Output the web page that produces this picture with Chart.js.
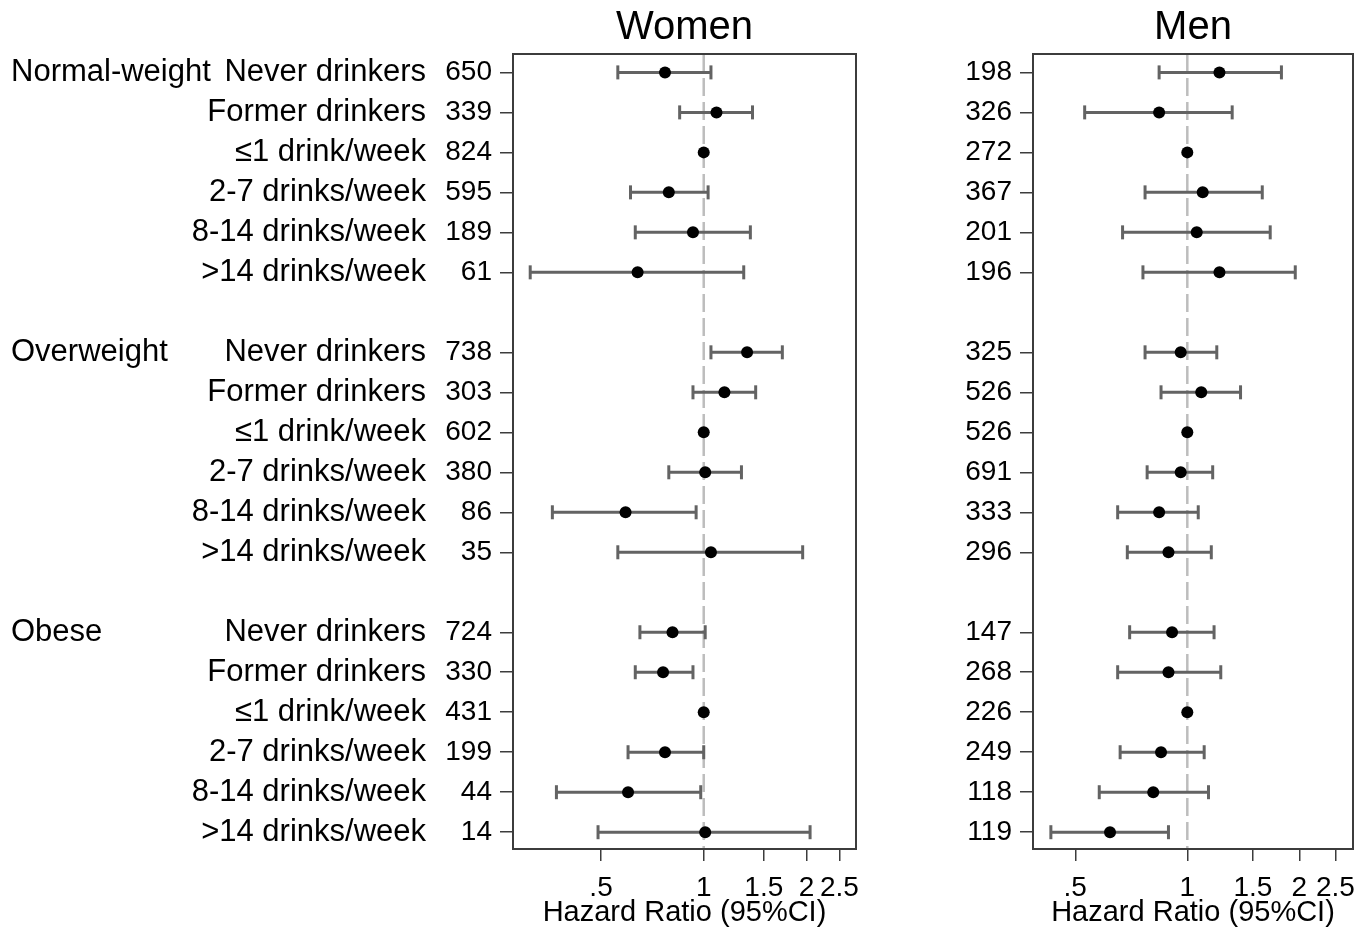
<!DOCTYPE html>
<html>
<head>
<meta charset="utf-8">
<script src="https://cdn.jsdelivr.net/npm/chart.js@4/dist/chart.umd.min.js"></script>
<style>
  body { margin: 0; background: #fff; }
  canvas { position: absolute; top: 0; }
  #women { left: 0; }
  #men { left: 870px; }
</style>
</head>
<body>
<canvas id="women" width="870" height="931"></canvas>
<canvas id="men" width="500" height="931"></canvas>
<script>
// chart values
var groups = ['Normal-weight', 'Overweight', 'Obese'];
var categories = ['Never drinkers', 'Former drinkers', '\u22641 drink/week', '2-7 drinks/week', '8-14 drinks/week', '>14 drinks/week'];

var womenN  = [650, 339, 824, 595, 189, 61,   738, 303, 602, 380, 86, 35,   724, 330, 431, 199, 44, 14];
var womenHR = [0.77, 1.09, 1, 0.79, 0.93, 0.64,   1.34, 1.15, 1, 1.01, 0.59, 1.05,   0.81, 0.76, 1, 0.77, 0.60, 1.01];
var womenLo = [0.56, 0.85, null, 0.61, 0.63, 0.31,   1.05, 0.93, null, 0.79, 0.36, 0.56,   0.65, 0.63, null, 0.60, 0.37, 0.49];
var womenHi = [1.05, 1.39, null, 1.03, 1.37, 1.31,   1.70, 1.42, null, 1.29, 0.95, 1.95,   1.01, 0.93, null, 1.00, 0.98, 2.05];

var menN  = [198, 326, 272, 367, 201, 196,   325, 526, 526, 691, 333, 296,   147, 268, 226, 249, 118, 119];
var menHR = [1.22, 0.84, 1, 1.10, 1.06, 1.22,   0.96, 1.09, 1, 0.96, 0.84, 0.89,   0.91, 0.89, 1, 0.85, 0.81, 0.62];
var menLo = [0.84, 0.53, null, 0.77, 0.67, 0.76,   0.77, 0.85, null, 0.78, 0.65, 0.69,   0.70, 0.65, null, 0.66, 0.58, 0.43];
var menHi = [1.79, 1.32, null, 1.59, 1.67, 1.95,   1.20, 1.39, null, 1.17, 1.07, 1.16,   1.18, 1.23, null, 1.11, 1.14, 0.89];

var xTicks = [0.5, 1, 1.5, 2, 2.5];
var xTickLabels = ['.5', '1', '1.5', '2', '2.5'];

var FONT = "'Liberation Sans', Arial, sans-serif";
var yMin = -0.46, yMax = 19.42;

// row position: one blank row between weight groups
var rowPos = [];
groups.forEach(function(g, gi) {
    categories.forEach(function(c, ci) { rowPos.push(gi * 7 + ci); });
});
var rowLabels = groups.map(function() { return categories; }).flat();
var groupPos = groups.map(function(g, gi) { return gi * 7; });

function ciData(lo, hi) {
    var out = [];
    rowPos.forEach(function(p, i) {
        if (lo[i] === null) return;
        out.push({x: lo[i], y: p}, {x: hi[i], y: p}, {x: null, y: null});
    });
    return out;
}

var framePlugin = {
    id: 'frame',
    afterDraw: function(chart) {
        var a = chart.chartArea, ctx = chart.ctx;
        ctx.save();
        ctx.strokeStyle = '#3c3c3c';
        ctx.lineWidth = 2;
        ctx.strokeRect(a.left, a.top, a.right - a.left, a.bottom - a.top);
        ctx.restore();
    }
};

function yAxis(positions, labels, opts, tickOpts) {
    return Object.assign({
        type: 'linear',
        position: 'left',
        min: yMin,
        max: yMax,
        reverse: true,
        border: {display: false},
        afterBuildTicks: function(scale) {
            scale.ticks = positions.map(function(v) { return {value: v}; });
        },
        ticks: Object.assign({
            autoSkip: false,
            color: '#000',
            font: {family: FONT, size: 31},
            callback: function(value, index) { return labels[index]; }
        }, tickOpts)
    }, opts);
}

function buildPanel(id, title, n, hr, lo, hi, xMin, xMax, withLabels) {
    var scales = {
        x: {
            type: 'logarithmic',
            position: 'bottom',
            min: xMin,
            max: xMax,
            border: {display: false},
            afterBuildTicks: function(scale) {
                scale.ticks = xTicks.map(function(v) { return {value: v}; });
            },
            afterFit: function(scale) { scale.height = 82; },
            grid: {drawOnChartArea: false, drawTicks: true, tickLength: 12, color: '#3c3c3c', lineWidth: 1.5},
            ticks: {
                autoSkip: false,
                maxRotation: 0,
                padding: 10,
                color: '#000',
                font: {family: FONT, size: 28},
                callback: function(value, index) { return xTickLabels[index]; }
            },
            title: {
                display: true,
                text: 'Hazard Ratio (95%CI)',
                color: '#000',
                font: {family: FONT, size: 29},
                padding: {top: 0, bottom: 1}
            }
        },
        y: yAxis(rowPos, n, {
            weight: 1,
            afterFit: function(scale) { scale.width = withLabels ? 87 : 163; },
            grid: {drawOnChartArea: false, drawTicks: true, tickLength: 13, color: '#3c3c3c', lineWidth: 1.5}
        }, {padding: 8, font: {family: FONT, size: 28}})
    };

    if (withLabels) {
        scales.yCat = yAxis(rowPos, rowLabels, {
            weight: 2,
            grid: {display: false, drawTicks: false},
            afterFit: function(scale) { scale.width = 425; }
        }, {padding: 0});
        // mirrored so the group names are not clipped to a narrow box
        scales.yGrp = yAxis(groupPos, groups, {
            weight: 3,
            grid: {display: false, drawTicks: false},
            afterFit: function(scale) { scale.width = 1; }
        }, {mirror: true, padding: 10});
    }

    return new Chart(document.getElementById(id), {
        type: 'scatter',
        data: {
            datasets: [{
                label: 'HR',
                data: rowPos.map(function(p, i) { return {x: hr[i], y: p}; }),
                pointRadius: 6,
                pointBackgroundColor: '#000',
                pointBorderWidth: 0,
                order: 0
            }, {
                label: '95% CI',
                data: ciData(lo, hi),
                showLine: true,
                borderColor: '#636363',
                borderWidth: 3,
                pointStyle: 'line',
                pointRotation: 90,
                pointRadius: 7,
                pointBorderColor: '#636363',
                pointBorderWidth: 3,
                order: 1
            }, {
                label: 'ref',
                data: [{x: 1, y: yMin}, {x: 1, y: yMax}],
                showLine: true,
                borderColor: '#bdbdbd',
                borderWidth: 2.5,
                borderDash: [18, 6],
                pointRadius: 0,
                order: 2
            }]
        },
        options: {
            responsive: false,
            animation: false,
            events: [],
            layout: {padding: {left: 0, right: withLabels ? 14 : 17, top: 0, bottom: 0}},
            plugins: {
                legend: {display: false},
                tooltip: {enabled: false},
                title: {
                    display: true,
                    text: title,
                    fullSize: false,
                    color: '#000',
                    font: {family: FONT, size: 40, weight: 'normal'},
                    padding: {top: 4, bottom: 2}
                }
            },
            scales: scales
        },
        plugins: [framePlugin]
    });
}

buildPanel('women', 'Women', womenN, womenHR, womenLo, womenHi, 0.276, 2.795, true);
buildPanel('men', 'Men', menN, menHR, menLo, menHi, 0.385, 2.787, false);
</script>
</body>
</html>
